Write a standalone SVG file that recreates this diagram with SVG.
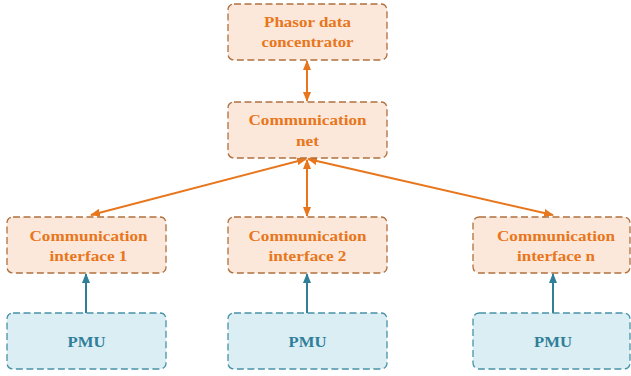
<svg xmlns="http://www.w3.org/2000/svg" width="631" height="376" viewBox="0 0 631 376">
  <defs>
    <style>
      .obox { fill: #fce8da; stroke: #b0703e; stroke-width: 1.3; stroke-dasharray: 7 3.5; }
      .bbox { fill: #dbeef4; stroke: #4893a8; stroke-width: 1.3; stroke-dasharray: 7 3.5; }
      .otxt { fill: #e8761c; }
      .btxt { fill: #2f7f99; }
      .oline { stroke: #e8761c; stroke-width: 2; fill: none; }
      .bline { stroke: #2f7f99; stroke-width: 2; fill: none; }
    </style>
    <marker id="ohead" viewBox="0 0 10 8" refX="9" refY="4" markerWidth="5" markerHeight="4" orient="auto-start-reverse" markerUnits="strokeWidth">
      <path d="M0,0 L10,4 L0,8 z" fill="#e8761c"/>
    </marker>
    <marker id="bhead" viewBox="0 0 10 8" refX="9" refY="4" markerWidth="5" markerHeight="4" orient="auto" markerUnits="strokeWidth">
      <path d="M0,0 L10,4 L0,8 z" fill="#2f7f99"/>
    </marker>
  </defs>

  <g id="connectors">
    <line class="oline" x1="307" y1="61" x2="307" y2="101" marker-start="url(#ohead)" marker-end="url(#ohead)"/>
    <line class="oline" x1="306" y1="159" x2="91" y2="215" marker-start="url(#ohead)" marker-end="url(#ohead)"/>
    <line class="oline" x1="307" y1="160" x2="307" y2="216" marker-start="url(#ohead)" marker-end="url(#ohead)"/>
    <line class="oline" x1="308" y1="159" x2="553" y2="215" marker-start="url(#ohead)" marker-end="url(#ohead)"/>
    <line class="bline" x1="86" y1="313" x2="86" y2="274" marker-end="url(#bhead)"/>
    <line class="bline" x1="307" y1="313" x2="307" y2="274" marker-end="url(#bhead)"/>
    <line class="bline" x1="553" y1="313" x2="553" y2="274" marker-end="url(#bhead)"/>
  </g>

  <g font-family="Liberation Serif, DejaVu Serif, serif" font-weight="bold" font-size="15" text-anchor="middle">
    <g id="pdc">
      <rect class="obox" x="228" y="4" width="159" height="56" rx="6"/>
      <text class="otxt" x="307.5" y="27" textLength="87" lengthAdjust="spacingAndGlyphs">Phasor data</text>
      <text class="otxt" x="307.5" y="47" textLength="92" lengthAdjust="spacingAndGlyphs">concentrator</text>
    </g>

    <g id="comm-net">
      <rect class="obox" x="228" y="102" width="159" height="56" rx="6"/>
      <text class="otxt" x="307.5" y="125" textLength="118" lengthAdjust="spacingAndGlyphs">Communication</text>
      <text class="otxt" x="307.5" y="146" textLength="23" lengthAdjust="spacingAndGlyphs">net</text>
    </g>

    <g id="interface-1">
      <rect class="obox" x="7" y="217" width="159" height="56" rx="6"/>
      <text class="otxt" x="88.5" y="241" textLength="118" lengthAdjust="spacingAndGlyphs">Communication</text>
      <text class="otxt" x="88.5" y="261" textLength="78" lengthAdjust="spacingAndGlyphs">interface 1</text>
    </g>

    <g id="interface-2">
      <rect class="obox" x="228" y="217" width="159" height="56" rx="6"/>
      <text class="otxt" x="307.5" y="241" textLength="118" lengthAdjust="spacingAndGlyphs">Communication</text>
      <text class="otxt" x="307.5" y="261" textLength="78" lengthAdjust="spacingAndGlyphs">interface 2</text>
    </g>

    <g id="interface-n">
      <rect class="obox" x="473" y="217" width="157" height="56" rx="6"/>
      <text class="otxt" x="556" y="241" textLength="118" lengthAdjust="spacingAndGlyphs">Communication</text>
      <text class="otxt" x="556" y="261" textLength="78" lengthAdjust="spacingAndGlyphs">interface n</text>
    </g>

    <g id="pmu-1">
      <rect class="bbox" x="7" y="313" width="159" height="56" rx="6"/>
      <text class="btxt" x="86.5" y="347" textLength="38" lengthAdjust="spacingAndGlyphs">PMU</text>
    </g>

    <g id="pmu-2">
      <rect class="bbox" x="228" y="313" width="159" height="56" rx="6"/>
      <text class="btxt" x="307.5" y="347" textLength="38" lengthAdjust="spacingAndGlyphs">PMU</text>
    </g>

    <g id="pmu-n">
      <rect class="bbox" x="473" y="313" width="157" height="56" rx="6"/>
      <text class="btxt" x="553" y="347" textLength="38" lengthAdjust="spacingAndGlyphs">PMU</text>
    </g>
  </g>
</svg>
